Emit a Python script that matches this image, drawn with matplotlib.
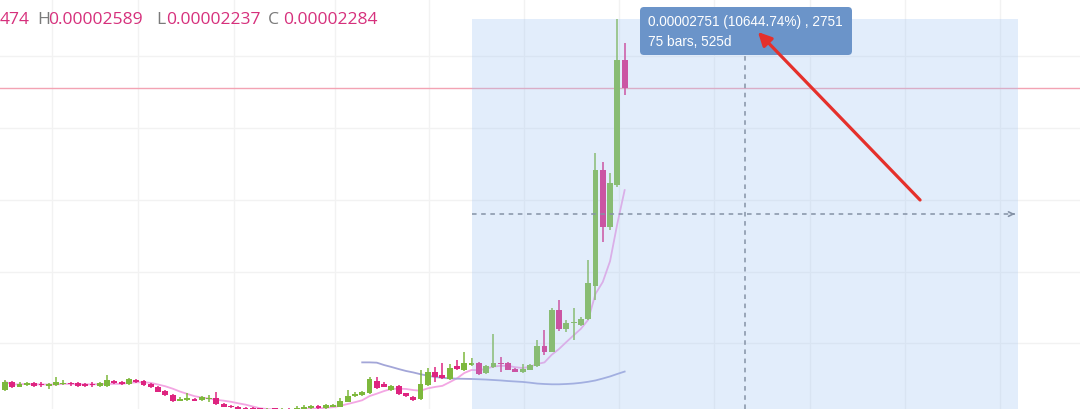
import matplotlib
matplotlib.use("Agg")
import matplotlib.pyplot as plt
import numpy as np
import pandas as pd
from matplotlib.patches import FancyBboxPatch, Rectangle
from matplotlib.transforms import IdentityTransform

# ---- data (prices in units of 1e-8) ----
opens = [245, 301, 268, 279, 295, 286, 275, 279, 288, 291, 291, 288, 284, 272, 272, 306, 301, 284, 311, 306,
         286, 268, 241, 212, 173, 178, 185, 178, 183, 193, 151, 137, 133, 126, 124, 121, 107, 121, 104, 117,
         107, 117, 121, 140, 122, 134, 133, 167, 205, 212, 223, 308, 284, 245, 272, 223, 200, 183, 279, 369,
         347, 318, 408, 380, 415, 426, 360, 399, 430, 428, 389, 365, 383, 407, 543, 504, 786, 655, 696, 684,
         723, 948, 1730, 1346, 1629, 2474]
highs = [313, 308, 297, 301, 300, 301, 295, 335, 313, 301, 297, 295, 301, 297, 347, 315, 308, 329, 320, 313,
         293, 274, 245, 216, 200, 225, 189, 207, 212, 234, 155, 144, 137, 131, 129, 124, 124, 124, 124, 122,
         135, 142, 144, 144, 149, 151, 189, 245, 234, 241, 335, 335, 297, 279, 279, 227, 207, 381, 396, 403,
         426, 419, 448, 500, 459, 432, 414, 626, 468, 437, 396, 421, 423, 583, 650, 797, 853, 718, 797, 740,
         1123, 1845, 1785, 1708, 2751, 2588]
lows = [239, 257, 264, 272, 266, 264, 250, 272, 279, 274, 268, 268, 264, 268, 268, 288, 281, 279, 291, 274,
        259, 230, 207, 167, 169, 173, 169, 173, 167, 146, 129, 124, 112, 107, 104, 100, 104, 100, 100, 100,
        104, 114, 117, 117, 117, 129, 129, 162, 200, 207, 218, 252, 264, 241, 214, 200, 173, 178, 274, 297,
        320, 313, 380, 376, 408, 349, 356, 394, 369, 378, 365, 360, 378, 403, 482, 500, 646, 639, 583, 680,
        718, 853, 1245, 1325, 1616, 2237]
closes = [301, 264, 286, 295, 272, 281, 279, 301, 295, 284, 274, 274, 277, 291, 313, 295, 286, 318, 301, 279,
          264, 234, 212, 173, 183, 189, 173, 196, 189, 151, 133, 131, 117, 110, 107, 104, 119, 104, 119, 104,
          122, 134, 137, 122, 142, 144, 171, 207, 218, 230, 318, 257, 268, 272, 218, 205, 178, 286, 369, 335,
          324, 392, 385, 430, 430, 354, 408, 430, 423, 383, 369, 389, 414, 540, 504, 786, 655, 696, 707, 723,
          966, 1730, 1346, 1641, 2474, 2284]

# long moving average as displayed (starts at bar 49)
ma_long_start = 49
ma_long = [432, 432, 430, 414, 401, 387, 374, 364, 352, 342, 333, 328, 324, 322, 321, 320, 318, 316, 313, 310,
           306, 303, 300, 295, 289, 286, 284, 284, 286, 289, 294, 301, 310, 323, 337, 354, 370]
ma_short_period = 7

# measure tool
measure_start, measure_end = 64, 139
measure_low, measure_high = 115, 2751
header = [("474", "#d6307c"), ("H", "#7a7a7a"), ("0.00002589", "#d6307c"), ("L", "#7a7a7a"),
          ("0.00002237", "#d6307c"), ("C", "#7a7a7a"), ("0.00002284", "#d6307c")]
tooltip_lines = ["0.00002751 (10644.74%) , 2751", "75 bars, 525d"]
last_price = closes[-1]

# ---- layout helpers (pixel geometry) ----
W, H = 1080, 409
PX, X0 = 7.29, 5.0
Y_TOP, Y_SLOPE = 2878.0, 6.75


def px_x(px):
    return (px - X0) / PX


def px_y(py):
    return Y_TOP - Y_SLOPE * py


UP, DOWN = "#7db83c", "#de2480"

fig = plt.figure(figsize=(W / 100, H / 100), dpi=100)
fig.patch.set_facecolor("white")
ax = fig.add_axes([0, 0, 1, 1])
ax.set_xlim(px_x(0), px_x(W))
ax.set_ylim(px_y(H), px_y(0))
for s in ax.spines.values():
    s.set_visible(False)
ax.set_xticks([px_x(v) for v in [52, 138, 234, 335, 429, 524, 619, 714, 810, 905, 1000]])
ax.set_yticks([px_y(v) for v in [56, 128, 200, 271.5, 343]])
ax.tick_params(length=0, labelbottom=False, labelleft=False)
ax.grid(True, color="#f2f2f2", lw=1)
ax.set_axisbelow(True)

# price line
ax.axhline(last_price, color="#f3a3b3", lw=1, zorder=1.5)

# moving averages
idx = np.arange(len(closes))
ma_short = pd.Series(closes).rolling(ma_short_period, min_periods=1).mean()
ax.plot(idx, ma_short, color="#f3a6e3", lw=1.3, zorder=2)
ax.plot(np.arange(ma_long_start, ma_long_start + len(ma_long)), ma_long, color="#a3a6d8", lw=1.3, zorder=2)

# candles
o = np.array(opens, float); c = np.array(closes, float)
hi = np.array(highs, float); lo = np.array(lows, float)
up = c >= o
cols = np.where(up, UP, DOWN)
ax.vlines(idx, lo, hi, colors=cols, lw=1.1, zorder=3)
bottom = np.minimum(o, c)
height = np.maximum(np.abs(c - o), 8)
ax.bar(idx, height, bottom=bottom, width=0.8, color=cols, zorder=3.1, linewidth=0)

# measure region overlay
ax.add_patch(Rectangle((measure_start, measure_low), measure_end - measure_start, measure_high - measure_low,
                       facecolor=(162 / 255, 198 / 255, 245 / 255), alpha=0.3, edgecolor="none", zorder=4))
mid_p = (measure_low + measure_high) / 2
mid_i = (measure_start + measure_end) / 2
dash_col = "#8592a6"
ax.plot([measure_start, measure_end - 0.4], [mid_p, mid_p], color=dash_col, lw=1.1, ls=(0, (3, 3)), zorder=5)
ax.annotate("", xy=(measure_end - 0.1, mid_p), xytext=(measure_end - 1.0, mid_p),
            arrowprops=dict(arrowstyle="->", color=dash_col, lw=1.2, mutation_scale=8), zorder=5)
ax.plot([mid_i, mid_i], [measure_low, measure_high], color=dash_col, lw=1.1, ls=(0, (3, 3)), zorder=5)

# header text
xs = [0, 37, 48, 156, 166, 268, 283]
for (t, col), x in zip(header, xs):
    fig.text(x / W, 1 - 19.5 / H, t, color=col, fontsize=12.6, family=["Open Sans", "DejaVu Sans"],
             ha="left", va="center")

# tooltip
tip = FancyBboxPatch((640, H - 55), 212, 48, boxstyle="round,pad=0,rounding_size=4",
                     transform=IdentityTransform(), facecolor="#6b94c9", edgecolor="none", zorder=10)
fig.add_artist(tip)
fig.text(648 / W, 1 - 22 / H, tooltip_lines[0], color="white", fontsize=9.8,
         family=["Liberation Sans", "DejaVu Sans"], ha="left", va="center", zorder=11)
fig.text(648 / W, 1 - 42 / H, tooltip_lines[1], color="white", fontsize=9.8,
         family=["Liberation Sans", "DejaVu Sans"], ha="left", va="center", zorder=11)

# red arrow
fig.add_artist(matplotlib.patches.FancyArrowPatch((922, H - 202), (756, H - 30), transform=IdentityTransform(),
                                                  arrowstyle="-|>", mutation_scale=20, color="#e5302b",
                                                  lw=2.3, zorder=12))

fig.savefig("out.png", dpi=100)
